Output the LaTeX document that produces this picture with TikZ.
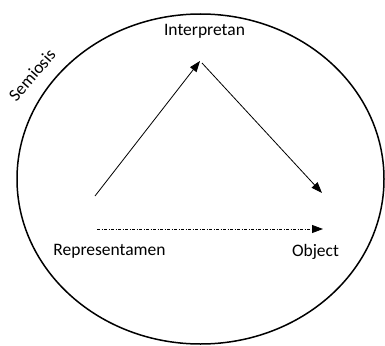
\documentclass[tikz,border=0pt]{standalone}
\usepackage{fontspec}
\setmainfont{Carlito}
\usepackage{tikz}
\usetikzlibrary{arrows.meta, positioning}
\definecolor{mydark}{RGB}{0,0,0}
\tikzset{
  label/.style={font=\fontsize{17.5}{21}\selectfont\color{mydark}, inner sep=0pt},
  arrow/.style={-{Triangle[length=11pt, width=8pt]}, line width=0.8pt, color=mydark},
  dotarrow/.style={-{Triangle[length=11pt, width=8pt]}, line width=0.8pt, color=mydark,
    dash pattern=on 3pt off 1.5pt on 1pt off 1.5pt},
  outline/.style={line width=1.5pt, color=mydark}
}

\begin{document}
\begin{tikzpicture}[x=1pt, y=1pt]
  \useasboundingbox (0,0) rectangle (385,-345);

  % Outer circle
  \draw[outline] (200.5,-179) ellipse [x radius=183.5, y radius=165];
  \node (S) at (32,-75) [label, rotate=49] {Semiosis};

  % Labels
  \node (I) at (204.5,-36) [label, anchor=base] {Interpretan};
  \node (R) at (109.5,-255) [label, anchor=base] {Representamen};
  \node (O) at (315.5,-256) [label, anchor=base] {Object};

  % Triangle corners
  \coordinate (r) at (95,-196);
  \coordinate (i) at (200,-61);
  \coordinate (i2) at (202,-63);
  \coordinate (o) at (322,-193);
  \coordinate (r2) at (97,-229);
  \coordinate (o2) at (323,-229);

  % Arrows
  \draw[arrow] (r) -- (i);
  \draw[arrow] (i2) -- (o);
  \draw[dotarrow] (r2) -- (o2);
\end{tikzpicture}
\end{document}
